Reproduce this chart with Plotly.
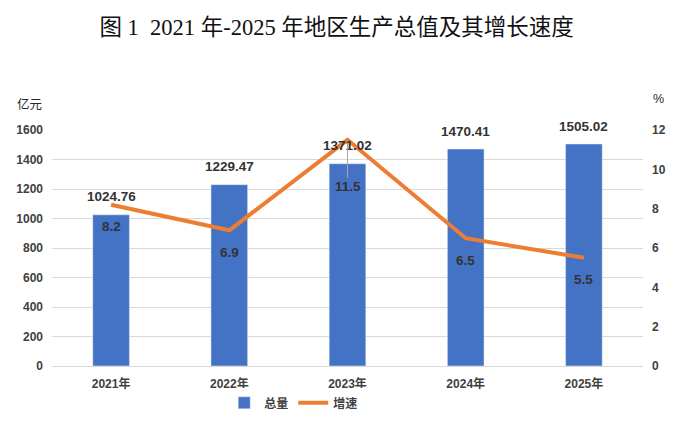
import plotly.graph_objects as go

years = ["2021年", "2022年", "2023年", "2024年", "2025年"]
totals = [1024.76, 1229.47, 1371.02, 1470.41, 1505.02]
growth = [8.2, 6.9, 11.5, 6.5, 5.5]
total_labels = ["1024.76", "1229.47", "1371.02", "1470.41", "1505.02"]
growth_labels = ["8.2", "6.9", "11.5", "6.5", "5.5"]

BAR = "#4472C4"
LINE = "#ED7D31"
TXT = "#404040"
LBL = "#333333"
FONT = "Liberation Sans, Noto Sans CJK SC, sans-serif"

fig = go.Figure()
fig.add_trace(go.Bar(x=years, y=totals, name="总量", marker_color=BAR, width=0.31,
                     yaxis="y"))
fig.add_trace(go.Scatter(x=years, y=growth, name="增速", mode="lines",
                         line=dict(color=LINE, width=4), yaxis="y2"))

lblfont = dict(size=13.5, color=LBL, family=FONT, weight="bold")
annotations = []
for x, v, t in zip(years, totals, total_labels):
    annotations.append(dict(x=x, y=v, xref="x", yref="y", text=t, showarrow=False,
                            yshift=18, font=lblfont))
for x, v, t in zip(years, growth, growth_labels):
    if v == max(growth):
        annotations.append(dict(x=x, y=v, xref="x", yref="y2", text=t, showarrow=True,
                                arrowhead=0, arrowwidth=1, arrowcolor="#a6a6a6",
                                ax=0, ay=47, standoff=3, startstandoff=0,
                                font=lblfont))
    else:
        annotations.append(dict(x=x, y=v, xref="x", yref="y2", text=t, showarrow=False,
                                yshift=-22, font=lblfont))

annotations.append(dict(text="亿元", xref="paper", yref="paper", x=-0.038, y=1.11,
                        xanchor="center", yanchor="middle",
                        showarrow=False, font=dict(size=12.5, color="#262626", family=FONT)))
annotations.append(dict(text="%", xref="paper", yref="paper", x=1.027, y=1.131,
                        xanchor="center", yanchor="middle",
                        showarrow=False, font=dict(size=12.5, color="#262626", family=FONT)))

tickfont = dict(size=12, color=TXT, family=FONT, weight="bold")
fig.update_layout(
    width=687, height=423,
    margin=dict(l=52, r=44, t=130, b=57, autoexpand=False),
    paper_bgcolor="white", plot_bgcolor="white",
    title=dict(text="图 1  2021 年-2025 年地区生产总值及其增长速度", x=0.49, xanchor="center",
               y=0.935, yanchor="middle",
               font=dict(size=22.5, color="#111111", family="Liberation Serif, Noto Sans CJK SC, serif")),
    xaxis=dict(showgrid=False, showline=True, linecolor="#d9d9d9", linewidth=1,
               tickfont=tickfont, ticks="", ticklabelstandoff=7, automargin=False),
    yaxis=dict(range=[0, 1600], dtick=200, showgrid=True, gridcolor="#d9d9d9",
               zeroline=False, tickfont=tickfont, ticks="", ticklabelstandoff=8,
               automargin=False),
    yaxis2=dict(range=[0, 12], dtick=2, overlaying="y", side="right", showgrid=False,
                zeroline=False, tickfont=tickfont, ticks="", ticklabelstandoff=8,
                automargin=False),
    legend=dict(orientation="h", x=0.409, xanchor="center", y=-0.156, yanchor="middle",
                font=dict(size=12, color=TXT, family=FONT, weight="bold"),
                itemwidth=30, tracegroupgap=0),
    annotations=annotations,
    showlegend=True,
    bargap=0.69,
)

fig.write_html("out.html", config={"displayModeBar": False},
               post_script="document.body.style.margin='0px';document.body.style.padding='0px';")
